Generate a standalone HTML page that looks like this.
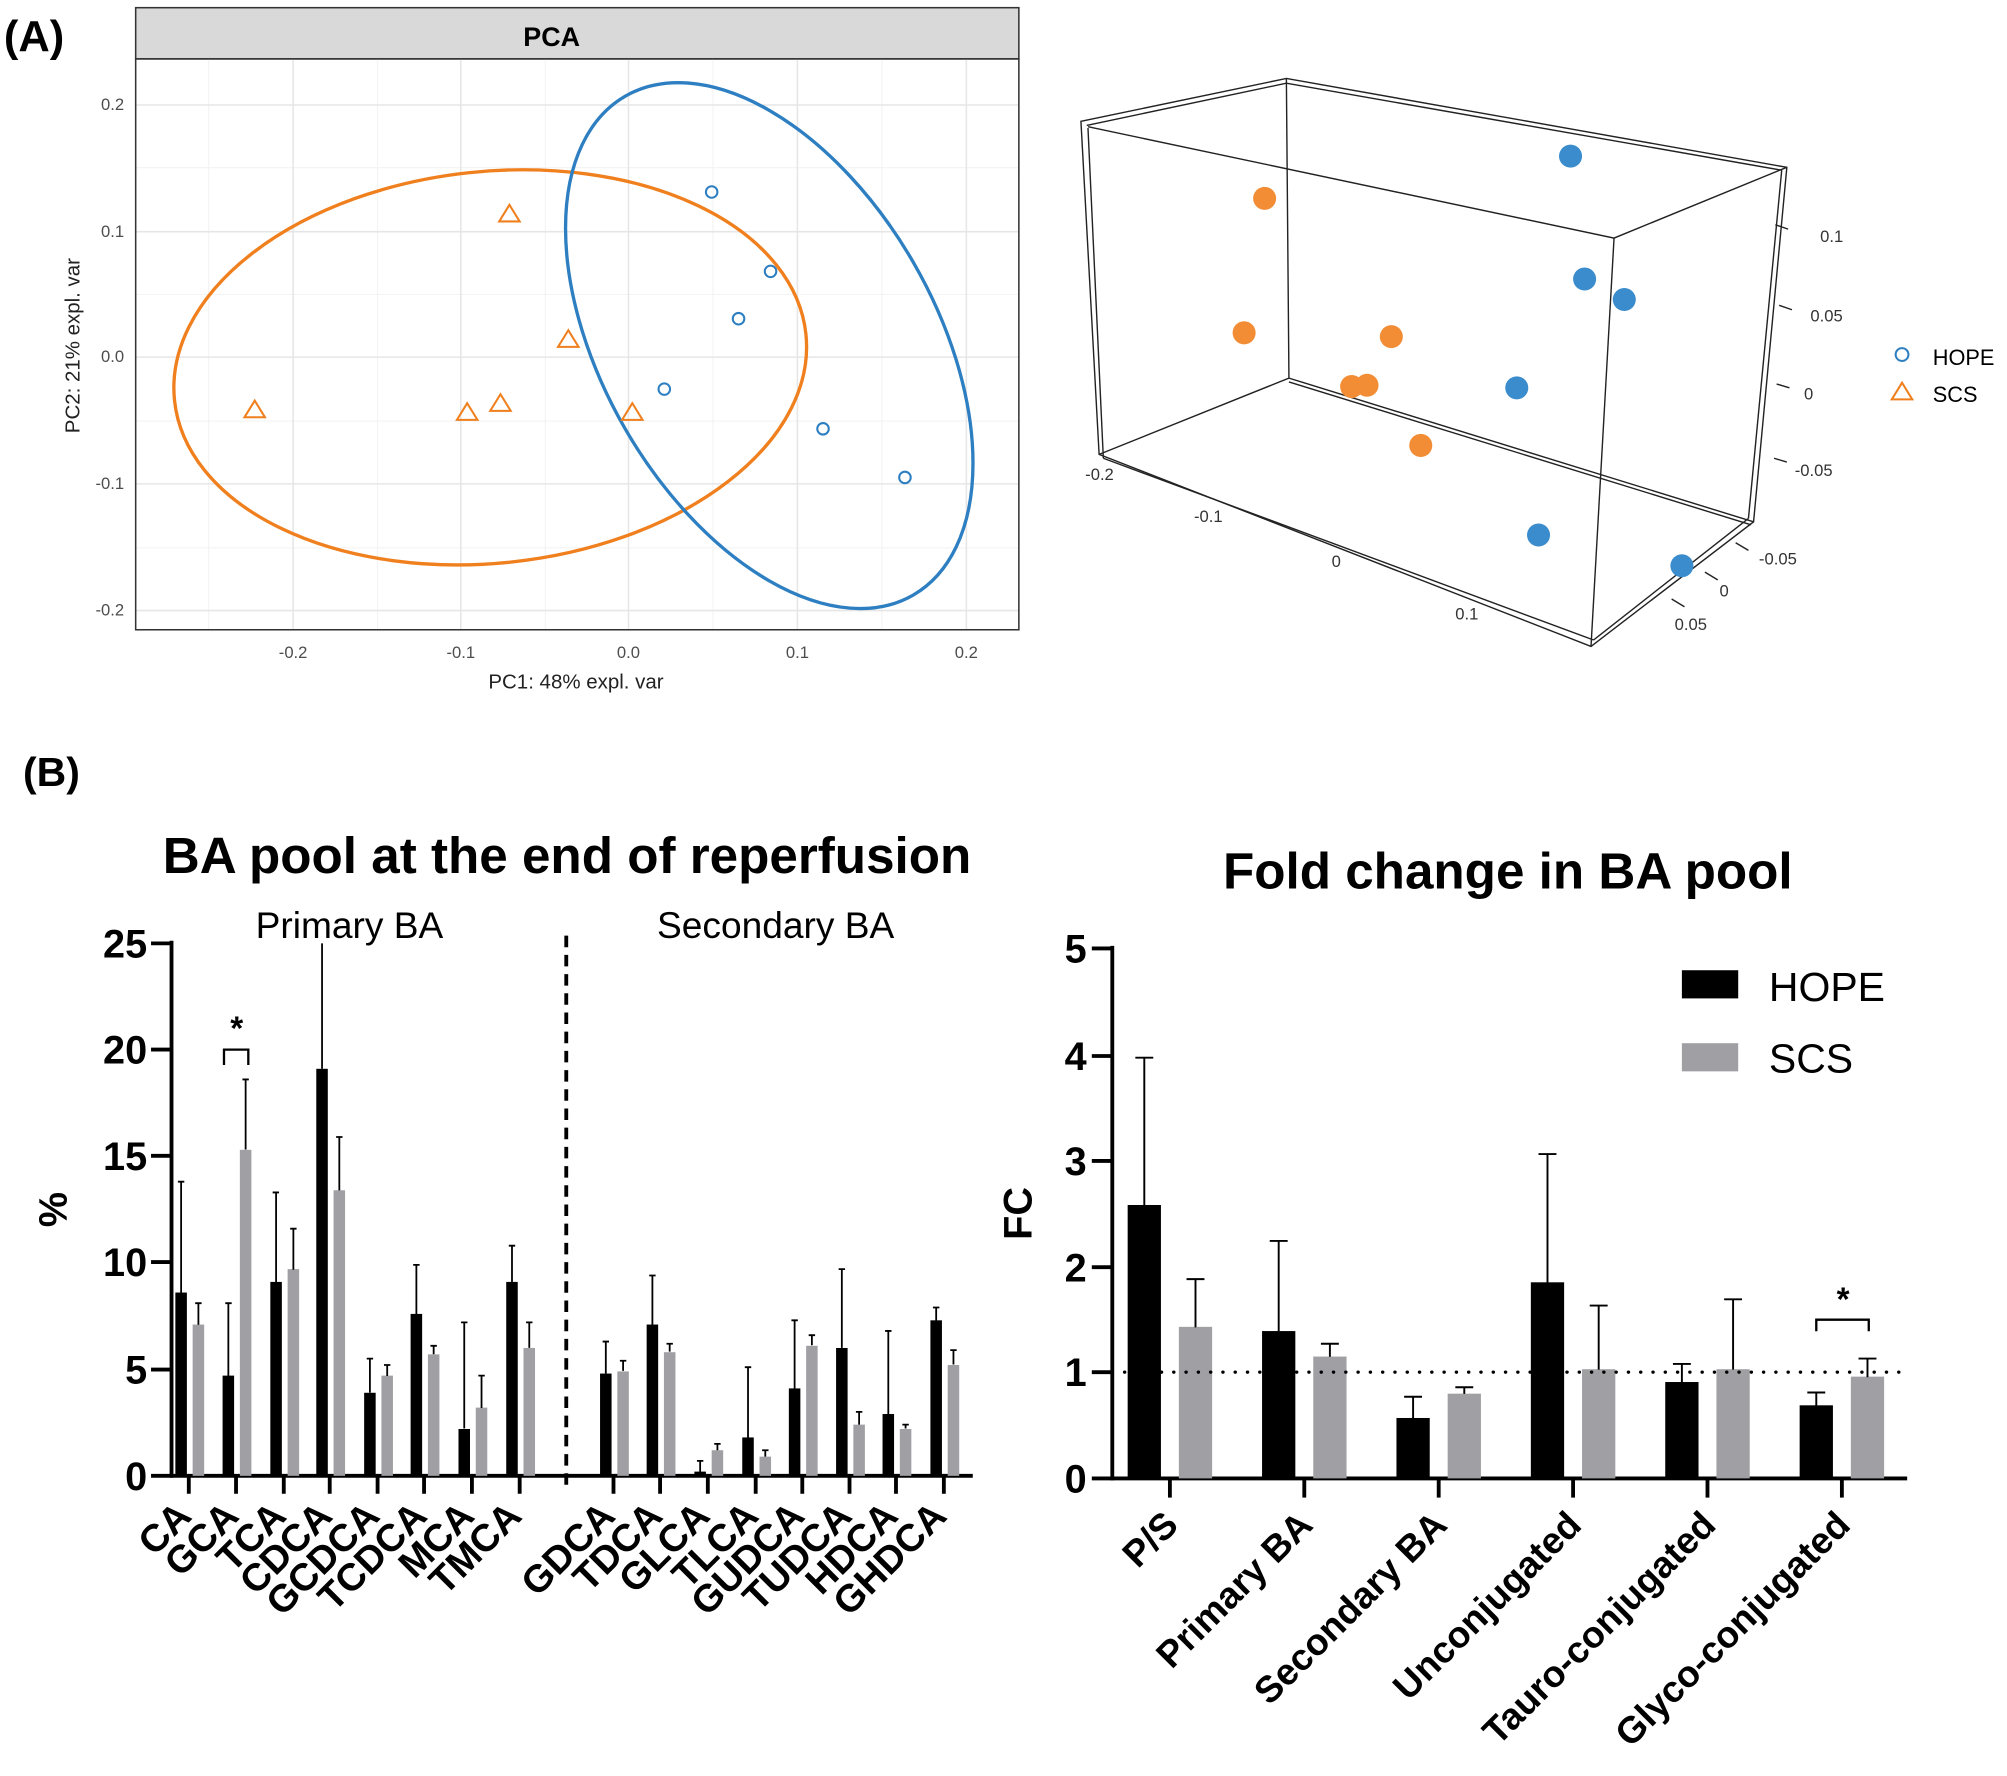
<!DOCTYPE html>
<html><head><meta charset="utf-8"><style>
html,body{margin:0;padding:0;background:#fff;}
svg{display:block;}
text{font-family:"Liberation Sans",Arial,sans-serif;}
</style></head><body>
<svg width="2007" height="1776" viewBox="0 0 1568 1387.5" preserveAspectRatio="none" xmlns="http://www.w3.org/2000/svg">
<rect width="1568" height="1387.5" fill="#fff"/>
<text x="3" y="40" font-size="34" font-weight="bold">(A)</text>
<text x="18" y="614" font-size="32" font-weight="bold">(B)</text>

<!-- PCA 2D -->
<g>
<rect x="106" y="6" width="690" height="40" fill="#d9d9d9" stroke="#333" stroke-width="1.2"/>
<text x="431" y="36" font-size="21" font-weight="bold" text-anchor="middle">PCA</text>
<g stroke="#f2f2f2" stroke-width="0.8">
<line x1="163" y1="46" x2="163" y2="492"/><line x1="295" y1="46" x2="295" y2="492"/><line x1="426" y1="46" x2="426" y2="492"/><line x1="557" y1="46" x2="557" y2="492"/><line x1="689" y1="46" x2="689" y2="492"/>
<line x1="106" y1="131" x2="796" y2="131"/><line x1="106" y1="230" x2="796" y2="230"/><line x1="106" y1="329" x2="796" y2="329"/><line x1="106" y1="428" x2="796" y2="428"/>
</g>
<g stroke="#e6e6e6" stroke-width="1.2">
<line x1="229" y1="46" x2="229" y2="492"/><line x1="360" y1="46" x2="360" y2="492"/><line x1="491" y1="46" x2="491" y2="492"/><line x1="623" y1="46" x2="623" y2="492"/><line x1="755" y1="46" x2="755" y2="492"/>
<line x1="106" y1="82" x2="796" y2="82"/><line x1="106" y1="181" x2="796" y2="181"/><line x1="106" y1="279" x2="796" y2="279"/><line x1="106" y1="378" x2="796" y2="378"/><line x1="106" y1="477" x2="796" y2="477"/>
</g>
<rect x="106" y="46" width="690" height="446" fill="none" stroke="#333" stroke-width="1.2"/>
<g font-size="13" fill="#4d4d4d" text-anchor="middle">
<text x="229" y="514">-0.2</text><text x="360" y="514">-0.1</text><text x="491" y="514">0.0</text><text x="623" y="514">0.1</text><text x="755" y="514">0.2</text>
</g>
<g font-size="13" fill="#4d4d4d" text-anchor="end">
<text x="97" y="86">0.2</text><text x="97" y="185">0.1</text><text x="97" y="283">0.0</text><text x="97" y="382">-0.1</text><text x="97" y="481">-0.2</text>
</g>
<text x="450" y="538" font-size="16" text-anchor="middle" fill="#222">PC1: 48% expl. var</text>
<text transform="translate(62,270) rotate(-90)" font-size="16" text-anchor="middle" fill="#222">PC2: 21% expl. var</text>
<ellipse cx="383" cy="287" rx="248" ry="153" transform="rotate(-6 383 287)" fill="none" stroke="#f07f1e" stroke-width="2.6"/>
<ellipse cx="601" cy="270" rx="225" ry="130" transform="rotate(60 601 270)" fill="none" stroke="#2d7fc1" stroke-width="2.6"/>
<g fill="none" stroke="#2d7fc1" stroke-width="1.6">
<circle cx="556" cy="150" r="4.5"/><circle cx="602" cy="212" r="4.5"/><circle cx="577" cy="249" r="4.5"/><circle cx="519" cy="304" r="4.5"/><circle cx="643" cy="335" r="4.5"/><circle cx="707" cy="373" r="4.5"/>
</g>
<g fill="none" stroke="#f07f1e" stroke-width="1.6">
<path d="M398 160 L390 173 L406 173 Z"/><path d="M444 258 L436 271 L452 271 Z"/><path d="M199 313 L191 326 L207 326 Z"/><path d="M365 315 L357 328 L373 328 Z"/><path d="M391 308 L383 321 L399 321 Z"/><path d="M494 315 L486 328 L502 328 Z"/>
</g>
</g>

<!-- 3D -->
<g stroke="#222" stroke-width="1.1" fill="none">
<path d="M844.5 94.8 L1005 61.3 L1396 130.7 L1370 407.7 L1243 505 L858.7 355 Z"/>
<path d="M849 98 L1005 65 L1392 133"/>
<path d="M850 99 L1261 186 L1396 130.7"/>
<path d="M1261 186 L1243 505"/>
<path d="M1005 61.3 L1007 295.4 L858.7 355"/>
<path d="M1007 295.4 L1370 407.7"/><path d="M1007 298.4 L1368 410"/>
<path d="M850 100 L862 358"/><path d="M862 358 L1245 500"/><path d="M1245 500 L1366 405"/><path d="M1392 133 L1366 405"/>
<path d="M1387 175.6 L1397 179"/><path d="M1390 238.5 L1400 242"/><path d="M1388 300 L1398 303"/><path d="M1386 358 L1396 361"/>
<path d="M1356 424 L1366 430"/><path d="M1332 447 L1342 453"/><path d="M1306 468 L1316 474"/>
</g>
<g font-size="13" fill="#333" text-anchor="middle">
<text x="1431" y="189">0.1</text><text x="1427" y="251">0.05</text><text x="1413" y="312">0</text><text x="1417" y="372">-0.05</text>
<text x="859" y="375">-0.2</text><text x="944" y="408">-0.1</text><text x="1044" y="443">0</text><text x="1146" y="484">0.1</text>
<text x="1389" y="441">-0.05</text><text x="1347" y="466">0</text><text x="1321" y="492">0.05</text>
</g>
<g fill="#3a8ccc">
<circle cx="1227" cy="122" r="9"/><circle cx="1238" cy="218" r="9"/><circle cx="1269" cy="234" r="9"/><circle cx="1185" cy="303" r="9"/><circle cx="1202" cy="418" r="9"/><circle cx="1314" cy="442" r="9"/>
</g>
<g fill="#f28d35">
<circle cx="988" cy="155" r="9"/><circle cx="972" cy="260" r="9"/><circle cx="1087" cy="263" r="9"/><circle cx="1056" cy="302" r="9"/><circle cx="1068" cy="301" r="9"/><circle cx="1110" cy="348" r="9"/>
</g>
<circle cx="1486" cy="277" r="5" fill="none" stroke="#2d7fc1" stroke-width="1.6"/>
<path d="M1486 299 L1478 312 L1494 312 Z" fill="none" stroke="#f07f1e" stroke-width="1.6"/>
<text x="1510" y="285" font-size="17">HOPE</text>
<text x="1510" y="314" font-size="17">SCS</text>

<!-- B left -->
<text x="443" y="682" font-size="40" font-weight="bold" text-anchor="middle">BA pool at the end of reperfusion</text>
<text x="273" y="733" font-size="29" text-anchor="middle">Primary BA</text>
<text x="606" y="733" font-size="29" text-anchor="middle">Secondary BA</text>
<text transform="translate(52,945) rotate(-90)" font-size="31" font-weight="bold" text-anchor="middle">%</text>
<g font-size="31" font-weight="bold" text-anchor="end">
<text x="115" y="748">25</text><text x="115" y="831">20</text><text x="115" y="914">15</text><text x="115" y="997">10</text><text x="115" y="1081">5</text><text x="115" y="1164">0</text>
</g>
<g stroke="#000" stroke-width="3">
<line x1="134" y1="735" x2="134" y2="1154.5"/><line x1="134" y1="1153" x2="760" y2="1153"/>
<line x1="118" y1="737" x2="134" y2="737"/><line x1="118" y1="820" x2="134" y2="820"/><line x1="118" y1="903" x2="134" y2="903"/><line x1="118" y1="986" x2="134" y2="986"/><line x1="118" y1="1070" x2="134" y2="1070"/><line x1="118" y1="1153" x2="134" y2="1153"/>
<line x1="147.5" y1="1153" x2="147.5" y2="1167"/><line x1="184.4" y1="1153" x2="184.4" y2="1167"/><line x1="221.7" y1="1153" x2="221.7" y2="1167"/><line x1="257.6" y1="1153" x2="257.6" y2="1167"/><line x1="295" y1="1153" x2="295" y2="1167"/><line x1="331.3" y1="1153" x2="331.3" y2="1167"/><line x1="368.7" y1="1153" x2="368.7" y2="1167"/><line x1="406" y1="1153" x2="406" y2="1167"/>
<line x1="479.3" y1="1153" x2="479.3" y2="1167"/><line x1="515.7" y1="1153" x2="515.7" y2="1167"/><line x1="553" y1="1153" x2="553" y2="1167"/><line x1="590.4" y1="1153" x2="590.4" y2="1167"/><line x1="626.8" y1="1153" x2="626.8" y2="1167"/><line x1="663.7" y1="1153" x2="663.7" y2="1167"/><line x1="700" y1="1153" x2="700" y2="1167"/><line x1="737.4" y1="1153" x2="737.4" y2="1167"/>
</g>
<line x1="442.4" y1="731" x2="442.4" y2="1164" stroke="#000" stroke-width="3" stroke-dasharray="9,6"/>
<g fill="#000">
<rect x="137" y="1009.8" width="9" height="143.2"/><rect x="173.9" y="1074.7" width="9" height="78.3"/><rect x="211.2" y="1001.5" width="9" height="151.5"/><rect x="247.1" y="835" width="9" height="318"/><rect x="284.5" y="1088.1" width="9" height="64.9"/><rect x="320.8" y="1026.5" width="9" height="126.5"/><rect x="358.2" y="1116.4" width="9" height="36.6"/><rect x="395.5" y="1001.5" width="9" height="151.5"/>
<rect x="468.8" y="1073.1" width="9" height="79.9"/><rect x="505.2" y="1034.8" width="9" height="118.2"/><rect x="542.5" y="1149.7" width="9" height="3.3"/><rect x="579.9" y="1123" width="9" height="30"/><rect x="616.3" y="1084.7" width="9" height="68.3"/><rect x="653.2" y="1053.1" width="9" height="99.9"/><rect x="689.5" y="1104.7" width="9" height="48.3"/><rect x="726.9" y="1031.5" width="9" height="121.5"/>
</g>
<g fill="#a0a0a4">
<rect x="150.5" y="1034.8" width="9" height="118.2"/><rect x="187.4" y="898.3" width="9" height="254.7"/><rect x="224.7" y="991.5" width="9" height="161.5"/><rect x="260.6" y="929.9" width="9" height="223.1"/><rect x="298" y="1074.7" width="9" height="78.3"/><rect x="334.3" y="1058.1" width="9" height="94.9"/><rect x="371.7" y="1099.7" width="9" height="53.3"/><rect x="409" y="1053.1" width="9" height="99.9"/>
<rect x="482.3" y="1071.4" width="9" height="81.6"/><rect x="518.7" y="1056.4" width="9" height="96.6"/><rect x="556" y="1133" width="9" height="20"/><rect x="593.4" y="1138" width="9" height="15"/><rect x="629.8" y="1051.4" width="9" height="101.6"/><rect x="666.7" y="1113" width="9" height="40"/><rect x="703" y="1116.4" width="9" height="36.6"/><rect x="740.4" y="1066.4" width="9" height="86.6"/>
</g>
<g stroke="#000" stroke-width="1.4" fill="none">
<path d="M141.5 1010 V923.2 M139 923.2 H144"/><path d="M178.4 1075 V1018.1 M176 1018.1 H181"/><path d="M215.7 1002 V931.6 M213 931.6 H218"/><path d="M251.6 835 V737"/><path d="M289 1088 V1061.4 M286.5 1061.4 H291.5"/><path d="M325.3 1027 V988.2 M322.8 988.2 H327.8"/><path d="M362.7 1116 V1033.1 M360.2 1033.1 H365.2"/><path d="M400 1002 V973.2 M397.5 973.2 H402.5"/>
<path d="M473.3 1073 V1048.1 M470.8 1048.1 H475.8"/><path d="M509.7 1035 V996.5 M507.2 996.5 H512.2"/><path d="M547 1150 V1141.3 M544.5 1141.3 H549.5"/><path d="M584.4 1123 V1068.1 M581.9 1068.1 H586.9"/><path d="M620.8 1085 V1031.5 M618.3 1031.5 H623.3"/><path d="M657.7 1053 V991.5 M655.2 991.5 H660.2"/><path d="M694 1105 V1039.8 M691.5 1039.8 H696.5"/><path d="M731.4 1032 V1021.5 M728.9 1021.5 H733.9"/>
<path d="M155 1035 V1018.1 M152.5 1018.1 H157.5"/><path d="M191.9 898 V843.3 M189.4 843.3 H194.4"/><path d="M229.2 992 V959.9 M226.7 959.9 H231.7"/><path d="M265.1 930 V888.3 M262.6 888.3 H267.6"/><path d="M302.5 1075 V1066.4 M300 1066.4 H305"/><path d="M338.8 1058 V1051.4 M336.3 1051.4 H341.3"/><path d="M376.2 1100 V1074.7 M373.7 1074.7 H378.7"/><path d="M413.5 1053 V1033.1 M411 1033.1 H416"/>
<path d="M486.8 1071 V1063.1 M484.3 1063.1 H489.3"/><path d="M523.2 1056 V1049.8 M520.7 1049.8 H525.7"/><path d="M560.5 1133 V1128 M558 1128 H563"/><path d="M597.9 1138 V1133 M595.4 1133 H600.4"/><path d="M634.3 1051 V1043.1 M631.8 1043.1 H636.8"/><path d="M671.2 1113 V1103 M668.7 1103 H673.7"/><path d="M707.5 1116 V1113 M705 1113 H710"/><path d="M744.9 1066 V1054.8 M742.4 1054.8 H747.4"/>
</g>
<path d="M175 832 V820 H194 V832" fill="none" stroke="#000" stroke-width="1.8"/>
<text x="185" y="812" font-size="26" font-weight="bold" text-anchor="middle">*</text>
<g font-size="30" font-weight="bold" text-anchor="end">
<text transform="translate(151,1186) rotate(-45)">CA</text><text transform="translate(188,1186) rotate(-45)">GCA</text><text transform="translate(225,1186) rotate(-45)">TCA</text><text transform="translate(261,1186) rotate(-45)">CDCA</text><text transform="translate(298,1186) rotate(-45)">GCDCA</text><text transform="translate(335,1186) rotate(-45)">TCDCA</text><text transform="translate(372,1186) rotate(-45)">MCA</text><text transform="translate(409,1186) rotate(-45)">TMCA</text>
<text transform="translate(482,1186) rotate(-45)">GDCA</text><text transform="translate(519,1186) rotate(-45)">TDCA</text><text transform="translate(556,1186) rotate(-45)">GLCA</text><text transform="translate(594,1186) rotate(-45)">TLCA</text><text transform="translate(630,1186) rotate(-45)">GUDCA</text><text transform="translate(667,1186) rotate(-45)">TUDCA</text><text transform="translate(703,1186) rotate(-45)">HDCA</text><text transform="translate(741,1186) rotate(-45)">GHDCA</text>
</g>

<!-- B right -->
<text x="1178" y="694" font-size="40" font-weight="bold" text-anchor="middle">Fold change in BA pool</text>
<text transform="translate(806,948) rotate(-90)" font-size="31" font-weight="bold" text-anchor="middle">FC</text>
<g font-size="31" font-weight="bold" text-anchor="end">
<text x="849" y="752">5</text><text x="849" y="836">4</text><text x="849" y="918">3</text><text x="849" y="1001">2</text><text x="849" y="1083">1</text><text x="849" y="1166">0</text>
</g>
<g stroke="#000" stroke-width="3">
<line x1="869" y1="739" x2="869" y2="1156.5"/><line x1="869" y1="1155" x2="1490" y2="1155"/>
<line x1="853" y1="741" x2="869" y2="741"/><line x1="853" y1="825" x2="869" y2="825"/><line x1="853" y1="907" x2="869" y2="907"/><line x1="853" y1="990" x2="869" y2="990"/><line x1="853" y1="1072" x2="869" y2="1072"/><line x1="853" y1="1155" x2="869" y2="1155"/>
<line x1="914" y1="1155" x2="914" y2="1170"/><line x1="1019" y1="1155" x2="1019" y2="1170"/><line x1="1124" y1="1155" x2="1124" y2="1170"/><line x1="1229" y1="1155" x2="1229" y2="1170"/><line x1="1334" y1="1155" x2="1334" y2="1170"/><line x1="1439" y1="1155" x2="1439" y2="1170"/>
</g>
<g fill="#000">
<rect x="881" y="941.4" width="26" height="213.6"/><rect x="986" y="1039.9" width="26" height="115.1"/><rect x="1091" y="1107.8" width="26" height="47.2"/><rect x="1196" y="1001.8" width="26" height="153.2"/><rect x="1301" y="1079.7" width="26" height="75.3"/><rect x="1406" y="1097.9" width="26" height="57.1"/>
</g>
<g fill="#a0a0a4">
<rect x="921" y="1036.6" width="26" height="118.4"/><rect x="1026" y="1059.8" width="26" height="95.2"/><rect x="1131" y="1088.8" width="26" height="66.2"/><rect x="1236" y="1069.7" width="26" height="85.3"/><rect x="1341" y="1069.7" width="26" height="85.3"/><rect x="1446" y="1075.5" width="26" height="79.5"/>
</g>
<line x1="869" y1="1072" x2="1490" y2="1072" stroke="#000" stroke-width="2.6" stroke-dasharray="0.1,9.5" stroke-linecap="round"/>
<g stroke="#000" stroke-width="1.5" fill="none">
<path d="M894 942 V826.3 M887 826.3 H901"/><path d="M999 1040 V969.5 M992 969.5 H1006"/><path d="M1104 1108 V1091.2 M1097 1091.2 H1111"/><path d="M1209 1002 V901.6 M1202 901.6 H1216"/><path d="M1314 1080 V1065.6 M1307 1065.6 H1321"/><path d="M1419 1098 V1087.9 M1412 1087.9 H1426"/>
<path d="M934 1037 V999.3 M927 999.3 H941"/><path d="M1039 1060 V1049.8 M1032 1049.8 H1046"/><path d="M1144 1089 V1083.8 M1137 1083.8 H1151"/><path d="M1249 1070 V1020 M1242 1020 H1256"/><path d="M1354 1070 V1015.1 M1347 1015.1 H1361"/><path d="M1459 1076 V1061.4 M1452 1061.4 H1466"/>
</g>
<path d="M1419 1040 V1031 H1460 V1040" fill="none" stroke="#000" stroke-width="1.8"/>
<text x="1440" y="1024" font-size="26" font-weight="bold" text-anchor="middle">*</text>
<rect x="1314" y="758" width="44" height="22" fill="#000"/>
<rect x="1314" y="815" width="44" height="22" fill="#a0a0a4"/>
<text x="1382" y="782" font-size="32">HOPE</text>
<text x="1382" y="838" font-size="32">SCS</text>
<g font-size="29" font-weight="bold" text-anchor="end">
<text transform="translate(922,1193) rotate(-45)">P/S</text><text transform="translate(1027,1193) rotate(-45)">Primary BA</text><text transform="translate(1132,1193) rotate(-45)">Secondary BA</text><text transform="translate(1237,1193) rotate(-45)">Unconjugated</text><text transform="translate(1342,1193) rotate(-45)">Tauro-conjugated</text><text transform="translate(1447,1193) rotate(-45)">Glyco-conjugated</text>
</g>
</svg>
</body></html>
